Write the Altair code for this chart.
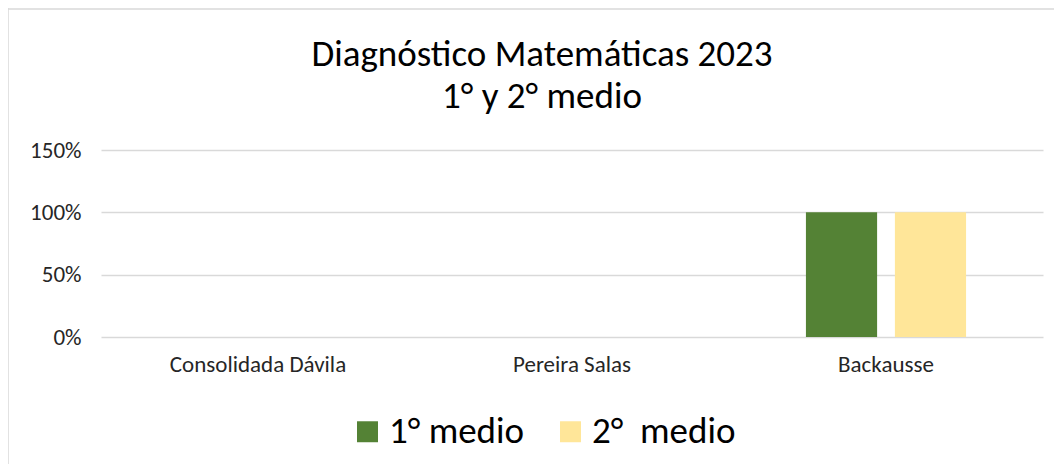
import altair as alt
import pandas as pd

categories = ["Consolidada Dávila", "Pereira Salas", "Backausse"]
series = ["1° medio", "2°  medio"]
values_1 = [0.0, 0.0, 1.0]
values_2 = [0.0, 0.0, 1.0]
colors = ["#548235", "#FFE699"]
title_lines = ["Diagnóstico Matemáticas 2023", "1° y 2° medio"]

rows = []
for c, v1, v2 in zip(categories, values_1, values_2):
    rows.append({"escuela": c, "nivel": series[0], "valor": v1})
    rows.append({"escuela": c, "nivel": series[1], "valor": v2})
df = pd.DataFrame(rows)

FONT = "Carlito, Lato, sans-serif"

bars = alt.Chart(df).mark_bar().encode(
    x=alt.X("escuela:N", sort=categories,
            scale=alt.Scale(paddingInner=0.49, paddingOuter=0.245),
            axis=alt.Axis(title=None, labelAngle=0, domain=False, ticks=False,
                          labelFontSize=23, labelColor="#262626", labelPadding=16,
                          labelFont=FONT)),
    xOffset=alt.XOffset("nivel:N", sort=series,
                        scale=alt.Scale(paddingInner=0.2, paddingOuter=0)),
    y=alt.Y("valor:Q", scale=alt.Scale(domain=[0, 1.5]),
            axis=alt.Axis(title=None, values=[0, 0.5, 1.0, 1.5], format="%",
                          domain=False, ticks=False, labelFontSize=23,
                          labelColor="#262626", labelPadding=20, labelFont=FONT,
                          gridColor="#d9d9d9", gridWidth=1.5)),
    color=alt.Color("nivel:N", sort=series,
                    scale=alt.Scale(domain=series, range=colors),
                    legend=alt.Legend(title=None, orient="none", direction="horizontal",
                                      legendX=248, legendY=263,
                                      symbolType="square", symbolSize=440,
                                      symbolStrokeWidth=0, labelFontSize=37,
                                      labelFont=FONT, labelColor="#000000",
                                      columnPadding=27, labelOffset=3,
                                      labelExpr="replace(datum.label, '  ', '\u00a0 ')")),
)

tdf = pd.DataFrame({"t": title_lines, "k": [0, 1]})
title1 = alt.Chart(tdf.iloc[[0]]).mark_text(
    fontSize=37, font=FONT, color="#000000", align="center", baseline="middle"
).encode(text="t:N", x=alt.value(441), y=alt.value(-95))
title2 = alt.Chart(tdf.iloc[[1]]).mark_text(
    fontSize=37, font=FONT, color="#000000", align="center", baseline="middle"
).encode(text="t:N", x=alt.value(441), y=alt.value(-53))

border = alt.Chart(pd.DataFrame({"a": [0]})).mark_rule(color="#d9d9d9", strokeWidth=1.5).encode(
    x=alt.value(-93), x2=alt.value(-93), y=alt.value(-142), y2=alt.value(320)
)
border_top = alt.Chart(pd.DataFrame({"a": [0]})).mark_rule(color="#d9d9d9", strokeWidth=1.5).encode(
    x=alt.value(-93), x2=alt.value(960), y=alt.value(-141), y2=alt.value(-141)
)

chart = alt.layer(bars, title1, title2, border, border_top).properties(
    width=942, height=187,
    autosize=alt.AutoSizeParams(type="none"),
    padding={"left": 93, "top": 142, "right": 11, "bottom": 127},
).configure_view(stroke=None)

chart.save("out.html", embed_options={"renderer": "svg", "actions": False})
